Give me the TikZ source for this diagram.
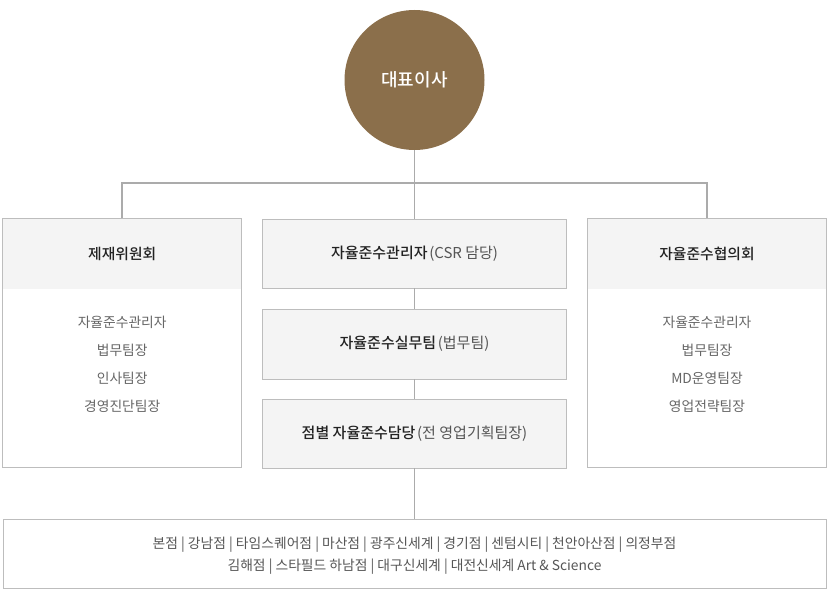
\documentclass[tikz,border=0pt]{standalone}
\usepackage{fontspec}
\setmainfont{Noto Sans CJK KR}[BoldFont={Noto Sans CJK KR Medium}]
\definecolor{ceo}{HTML}{8B6F4B}
\definecolor{lnc}{HTML}{ABABAB}
\definecolor{bdr}{HTML}{BDBDBD}
\definecolor{hdr}{HTML}{F4F4F4}
\definecolor{tdark}{HTML}{222222}
\definecolor{tmid}{HTML}{555555}
\definecolor{tlist}{HTML}{666666}
\begin{document}
\begin{tikzpicture}[x=1pt,y=-1pt,
  conn/.style={draw=lnc,line width=1.6pt},
  boxout/.style={draw=bdr,line width=0.9pt,inner sep=0pt},
  hdrband/.style={fill=hdr,inner sep=0pt,anchor=north},
  midbox/.style={draw=bdr,fill=hdr,line width=0.9pt,minimum width=304pt,inner sep=0pt},
  htext/.style={font=\fontsize{14.8}{16}\selectfont\bfseries,text=tdark},
  listtext/.style={font=\fontsize{13.8}{28}\selectfont,text=tlist,align=center},
]
\useasboundingbox (0,0) rectangle (830,610);
% CEO
\node[circle,fill=ceo,minimum size=140pt,inner sep=0pt,text=white,
  font=\fontsize{18}{20}\selectfont\bfseries] (ceo) at (414.5,80) {대표이사};
\coordinate (bus) at (414.5,183);
% left box
\node[hdrband,minimum width=239pt,minimum height=70pt] (lh) at (122.2,218.5) {};
\node[boxout,minimum width=239pt,minimum height=249pt] (lbox) at (122.2,343) {};
\node[htext] at (lh.center) {제재위원회};
\node[listtext] (ll) at (122.2,364) {자율준수관리자\\법무팀장\\인사팀장\\경영진단팀장};
% right box
\node[hdrband,minimum width=239pt,minimum height=70pt] (rh) at (707,218.5) {};
\node[boxout,minimum width=239pt,minimum height=249pt] (rbox) at (707,343) {};
\node[htext] at (rh.center) {자율준수협의회};
\node[listtext] (rl) at (707,364) {자율준수관리자\\법무팀장\\MD운영팀장\\영업전략팀장};
% middle boxes
\node[midbox,minimum height=69pt] (m1) at (414.5,253.5) {\textcolor{tdark}{\fontsize{15}{16}\selectfont\bfseries 자율준수관리자}\,{\fontsize{15}{16}\selectfont\color{tmid} (CSR 담당)}};
\node[midbox,minimum height=70pt] (m2) at (414.5,344) {\textcolor{tdark}{\fontsize{15}{16}\selectfont\bfseries 자율준수실무팀}\,{\fontsize{15}{16}\selectfont\color{tmid} (법무팀)}};
\node[midbox,minimum height=69pt] (m3) at (414.5,433.5) {\textcolor{tdark}{\fontsize{15}{16}\selectfont\bfseries 점별 자율준수담당}\,{\fontsize{15}{16}\selectfont\color{tmid} (전 영업기획팀장)}};
% bottom box
\node[boxout,minimum width=823pt,minimum height=69pt] (bot) at (414.5,553.5) {};
\node[font=\fontsize{13.8}{22}\selectfont,text=tmid,align=center] (botl) at (414.5,556)
  {본점 | 강남점 | 타임스퀘어점 | 마산점 | 광주신세계 | 경기점 | 센텀시티 | 천안아산점 | 의정부점\\김해점 | 스타필드 하남점 | 대구신세계 | 대전신세계 Art \& Science};
% connectors
\draw[conn] (ceo.south) -- (m1.north);
\draw[conn] (lbox.north) |- (bus) -| (rbox.north);
\draw[conn] (m1.south) -- (m2.north);
\draw[conn] (m2.south) -- (m3.north);
\draw[conn] (m3.south) -- (bot.north);
\end{tikzpicture}
\end{document}
